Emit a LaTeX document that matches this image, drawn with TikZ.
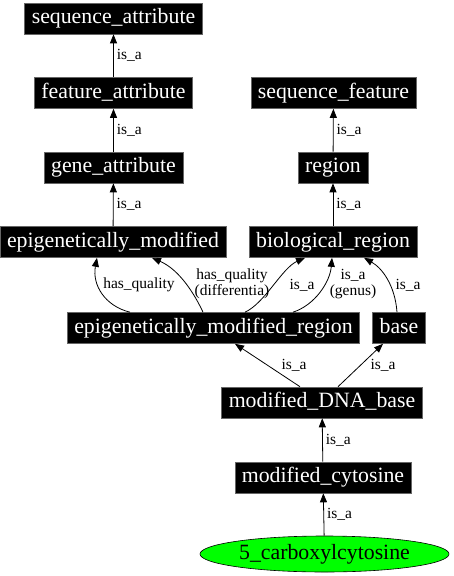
\documentclass[tikz,border=0pt]{standalone}
\usepackage{fontspec}
\setmainfont{Liberation Serif}
\usetikzlibrary{arrows.meta,shapes.geometric}
\begin{document}
\begin{tikzpicture}[x=1pt,y=-1pt,
  box/.style={fill=black, text=white, draw=black!60, line width=0.6pt,
    font=\fontsize{21.8}{24}\selectfont, minimum height=31pt,
    inner xsep=7pt, inner ysep=0pt, text height=15pt, text depth=4.5pt},
  edge/.style={draw=black, line width=0.8pt, -{Triangle[length=9pt,width=7pt]}},
  lbl/.style={font=\fontsize{15.5}{15.5}\selectfont, inner sep=1pt, align=center}]
\useasboundingbox (0,0) rectangle (453,576);

\node[box] (sa)  at (113.5,18.5)  {sequence\_attribute};
\node[box] (fa)  at (113.5,93)    {feature\_attribute};
\node[box] (ga)  at (113.5,167.5) {gene\_attribute};
\node[box] (em)  at (113,242)     {epigenetically\_modified};
\node[box] (sf)  at (333.5,93)    {sequence\_feature};
\node[box] (rg)  at (333,167.5)   {region};
\node[box] (br)  at (333,242)     {biological\_region};
\node[box] (emr) at (213.5,328)   {epigenetically\_modified\_region};
\node[box] (bs)  at (399,328)     {base};
\node[box] (mdb) at (322,402.5)   {modified\_DNA\_base};
\node[box] (mc)  at (323,477.5)   {modified\_cytosine};
\node[ellipse, draw=black, line width=0.6pt, fill=green, minimum width=249pt,
  minimum height=36pt, inner sep=0pt, font=\fontsize{21.8}{24}\selectfont]
  (cc) at (324.5,554) {5\_carboxylcytosine};

\draw[edge] (fa) -- node[lbl,right=2pt] {is\_a} (sa);
\draw[edge] (ga) -- node[lbl,right=2pt] {is\_a} (fa);
\draw[edge] (em) -- node[lbl,right=2pt] {is\_a} (ga);
\draw[edge] (rg) -- node[lbl,right=2pt] {is\_a} (sf);
\draw[edge] (br) -- node[lbl,right=2pt] {is\_a} (rg);

\draw[edge] ([xshift=-83.5pt]emr.north) .. controls (105,306) and (92,285) .. ([xshift=-16pt]em.south);
\node[lbl] (l1) at (139,285) {has\_quality};
\draw[edge] ([xshift=-10.5pt]emr.north) .. controls (195,295) and (180,270) .. ([xshift=39pt]em.south);
\node[lbl] (l2) at (232,284) {has\_quality\\(differentia)};
\draw[edge] ([xshift=31.5pt]emr.north) .. controls (265,303) and (282,268) .. ([xshift=-28pt]br.south);
\node[lbl] (l3) at (302,285) {is\_a};
\draw[edge] ([xshift=79.5pt]emr.north) .. controls (315,305) and (330,282) .. ([xshift=-1pt]br.south);
\node[lbl] (l4) at (353,284) {is\_a\\(genus)};
\draw[edge] ([xshift=-2pt]bs.north) .. controls (395,285) and (382,268) .. ([xshift=31pt]br.south);
\node[lbl] (l5) at (408,285) {is\_a};

\draw[edge] ([xshift=-22pt]mdb.north) -- ([xshift=21.5pt]emr.south);
\node[lbl] (l6) at (294,365) {is\_a};
\draw[edge] ([xshift=16pt]mdb.north) -- ([xshift=-16pt]bs.south);
\node[lbl] (l7) at (383,365) {is\_a};
\draw[edge] (mc) -- node[lbl,right=2pt] {is\_a} (mdb);
\draw[edge] (cc) -- node[lbl,right=2pt] {is\_a} (mc);
\end{tikzpicture}
\end{document}
